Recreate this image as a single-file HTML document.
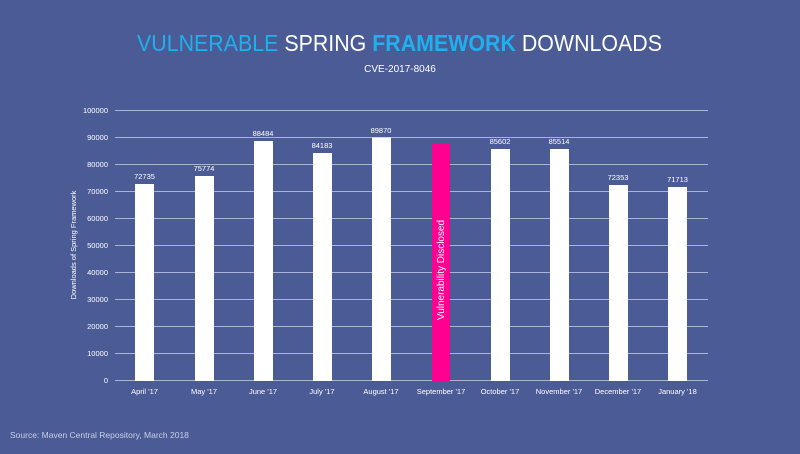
<!DOCTYPE html>
<html><head><style>
body{margin:0;width:800px;height:449px;background:#4b5b96;overflow:hidden;font-family:"Liberation Sans",sans-serif;}
</style></head><body>
<svg width="800" height="449" xmlns="http://www.w3.org/2000/svg" font-family="Liberation Sans, sans-serif">
<rect width="800" height="449" fill="#4b5b96"/>
<text x="137" y="51" font-size="23" fill="#fff" textLength="525" lengthAdjust="spacingAndGlyphs"><tspan fill="#1fb0ee">VULNERABLE</tspan> SPRING <tspan fill="#1fb0ee" font-weight="bold">FRAMEWORK</tspan> DOWNLOADS</text>
<text x="400" y="72" text-anchor="middle" font-size="10" fill="#fff">CVE-2017-8046</text>
<g stroke="#aab3d3" stroke-width="1">
<line x1="115" x2="708" y1="110.5" y2="110.5"/><line x1="115" x2="708" y1="137.5" y2="137.5"/>
<line x1="115" x2="708" y1="164.5" y2="164.5"/><line x1="115" x2="708" y1="191.5" y2="191.5"/>
<line x1="115" x2="708" y1="218.5" y2="218.5"/><line x1="115" x2="708" y1="245.5" y2="245.5"/>
<line x1="115" x2="708" y1="272.5" y2="272.5"/><line x1="115" x2="708" y1="299.5" y2="299.5"/>
<line x1="115" x2="708" y1="326.5" y2="326.5"/><line x1="115" x2="708" y1="353.5" y2="353.5"/>
<line x1="115" x2="708" y1="380.5" y2="380.5"/>
</g>
<g font-size="7.5" fill="#fff" text-anchor="end">
<text x="108" y="113">100000</text><text x="108" y="140">90000</text><text x="108" y="167">80000</text>
<text x="108" y="194">70000</text><text x="108" y="221">60000</text><text x="108" y="248">50000</text>
<text x="108" y="275">40000</text><text x="108" y="302">30000</text><text x="108" y="329">20000</text>
<text x="108" y="356">10000</text><text x="108" y="383">0</text>
</g>
<text transform="translate(76,245) rotate(-90)" text-anchor="middle" font-size="7.5" fill="#fff">Downloads of Spring Framework</text>
<g fill="#fff">
<rect x="135" y="184" width="19" height="197"/>
<rect x="195" y="176" width="19" height="205"/>
<rect x="254" y="141" width="19" height="240"/>
<rect x="313" y="153" width="19" height="228"/>
<rect x="372" y="137.5" width="19" height="243.5"/>
<rect x="491" y="149" width="19" height="232"/>
<rect x="550" y="149" width="19" height="232"/>
<rect x="609" y="185" width="19" height="196"/>
<rect x="668" y="187" width="19" height="194"/>
</g>
<rect x="432" y="144" width="18" height="237" fill="#ff0090"/>
<text transform="translate(444,270) rotate(-90)" text-anchor="middle" font-size="10" fill="#fff">Vulnerability Disclosed</text>
<g font-size="7.5" fill="#fff" text-anchor="middle">
<text x="144.5" y="179">72735</text><text x="204" y="171">75774</text><text x="263" y="136">88484</text>
<text x="322" y="148">84183</text><text x="381" y="133">89870</text><text x="500" y="144">85602</text>
<text x="559" y="144">85514</text><text x="618" y="180">72353</text><text x="677.5" y="182">71713</text>
</g>
<g font-size="7.5" fill="#fff" text-anchor="middle">
<text x="144.5" y="394">April '17</text><text x="204" y="394">May '17</text><text x="263" y="394">June '17</text>
<text x="322" y="394">July '17</text><text x="381" y="394">August '17</text><text x="441" y="394">September '17</text>
<text x="500" y="394">October '17</text><text x="559" y="394">November '17</text><text x="618" y="394">December '17</text>
<text x="677.5" y="394">January '18</text>
</g>
<text x="10" y="438" font-size="8.5" fill="#c9cfe6">Source: Maven Central Repository, March 2018</text>
</svg>
</body></html>
